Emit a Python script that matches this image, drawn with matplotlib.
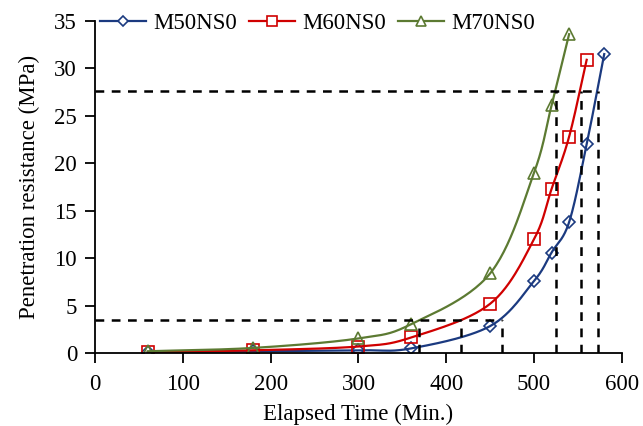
import matplotlib.pyplot as plt
import numpy as np

plt.rcParams['font.family'] = ['Liberation Serif', 'DejaVu Serif']

# elapsed time (min) and penetration resistance (MPa)
t50 = [60, 180, 300, 360, 450, 500, 520, 540, 560, 580]
p50 = [0.1, 0.2, 0.3, 0.5, 2.85, 7.6, 10.6, 13.8, 22.0, 31.5]
t60 = [60, 180, 300, 360, 450, 500, 520, 540, 560]
p60 = [0.1, 0.3, 0.7, 1.65, 5.2, 12.0, 17.3, 22.8, 30.9]
t70 = [60, 180, 300, 360, 450, 500, 520, 540]
p70 = [0.2, 0.55, 1.55, 3.05, 8.4, 19.0, 26.1, 33.6]

# initial / final setting thresholds and the times they are reached
initial_set = 3.5
final_set = 27.6
t_initial = [369, 417, 464]
t_final = [525, 554, 573]


def smooth(x, y, n=30):
    # Catmull-Rom curve through the points, like Excel's smoothed line
    x = np.asarray(x, float)
    y = np.asarray(y, float)
    px = np.concatenate([[2 * x[0] - x[1]], x, [2 * x[-1] - x[-2]]])
    py = np.concatenate([[2 * y[0] - y[1]], y, [2 * y[-1] - y[-2]]])
    s = np.linspace(0, 1, n)
    xs, ys = [], []
    for i in range(1, len(px) - 2):
        for arr, out in ((px, xs), (py, ys)):
            p0, p1, p2, p3 = arr[i - 1], arr[i], arr[i + 1], arr[i + 2]
            out.append(0.5 * (2 * p1 + (-p0 + p2) * s
                              + (2 * p0 - 5 * p1 + 4 * p2 - p3) * s ** 2
                              + (-p0 + 3 * p1 - 3 * p2 + p3) * s ** 3))
    return np.concatenate(xs), np.concatenate(ys)


fig = plt.figure(figsize=(6.43, 4.26), dpi=100)
ax = fig.add_axes([0.148, 0.171, 0.819, 0.78])

series = [
    (t50, p50, '#1B3A80', 'D', 6, 'M50NS0'),
    (t60, p60, '#D00000', 's', 8, 'M60NS0'),
    (t70, p70, '#5C7A32', '^', 8, 'M70NS0'),
]
for t, p, c, m, ms, lab in series:
    sx, sy = smooth(t, p)
    ax.plot(sx, sy, color=c, lw=1.6)
    ax.plot(t, p, ls='none', marker=m, ms=ms, mfc='none', mec=c, mew=1.2)
    ax.plot([], [], color=c, lw=1.6, marker=m, ms=ms - 1, mfc='white',
            mec=c, mew=1.2, label=lab)

dash = dict(color='black', lw=1.8, ls=(0, (3.5, 3)))
ax.plot([0, max(t_initial)], [initial_set, initial_set], **dash)
ax.plot([0, max(t_final)], [final_set, final_set], **dash)
for t in t_initial:
    ax.plot([t, t], [0, initial_set], **dash)
for t in t_final:
    ax.plot([t, t], [0, final_set], **dash)

ax.set_xlim(0, 600)
ax.set_ylim(0, 35)
ax.set_xticks(range(0, 601, 100))
ax.set_yticks(range(0, 36, 5))
ax.spines['top'].set_visible(False)
ax.spines['right'].set_visible(False)
for s in ('left', 'bottom'):
    ax.spines[s].set_linewidth(1.3)
ax.tick_params(direction='out', length=7, width=1.3, labelsize=16.5)
ax.tick_params(axis='x', pad=8)
ax.tick_params(axis='y', pad=6)
ax.set_xlabel('Elapsed Time (Min.)', fontsize=16.5, labelpad=6)
ax.set_ylabel('Penetration resistance (MPa)', fontsize=16.5, labelpad=10)

ax.legend(loc='upper left', ncol=3, frameon=False, fontsize=16.5,
          handlelength=2.0, handletextpad=0.3, columnspacing=0.55,
          bbox_to_anchor=(-0.008, 1.05), borderaxespad=0)

fig.savefig('out.png', dpi=100)
